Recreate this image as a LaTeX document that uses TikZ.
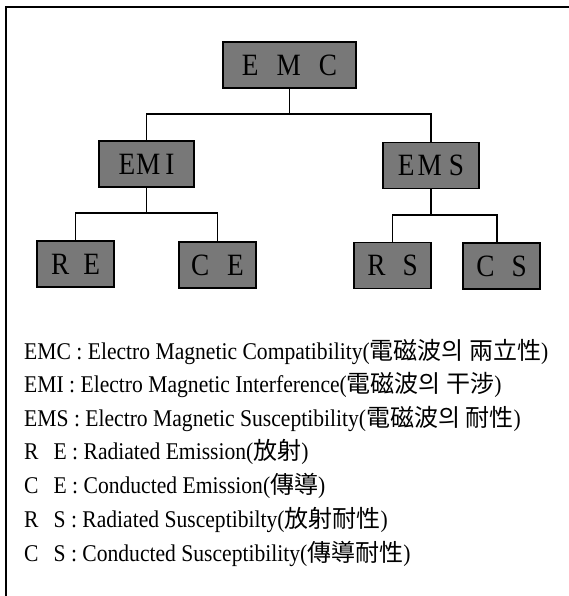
\documentclass[tikz,border=0pt]{standalone}
\usepackage{fontspec}
\newfontfamily\lat[FakeStretch=0.9]{Liberation Serif}
\newfontfamily\boxlat[FakeStretch=0.88]{Liberation Serif}
\newfontfamily\cjk{Noto Sans CJK KR}
\usetikzlibrary{calc}
\definecolor{boxgray}{gray}{0.47}
\begin{document}
\begin{tikzpicture}[x=1pt,y=-1pt,
  box/.style={draw=black, line width=1.4pt, fill=boxgray, inner sep=0pt,
    minimum height=46pt, minimum width=77pt, font=\fontsize{31}{31}\selectfont\boxlat},
  link/.style={line width=1.3pt},
  legend/.style={anchor=base west, inner sep=0pt, font=\fontsize{24}{24}\selectfont\lat}]
\useasboundingbox (0,0) rectangle (569,596);
% frame
\draw[line width=2pt] (5.5,596) -- (5.5,7.5) -- (569,7.5);
% boxes
\node[box, minimum width=133pt] (EMC) at (289.5,65) {E\hspace{18pt}M\hspace{18pt}C};
\node[box, minimum width=95pt] (EMI) at (146.5,164) {E\hspace{1pt}M\hspace{5pt}I};
\node[box, minimum width=96pt] (EMS) at (431,165.5) {E\hspace{3pt}M\hspace{7pt}S};
\node[box] (RE) at (75.5,264) {R\hspace{14pt}E};
\node[box] (CE) at (217.5,265) {C\hspace{18pt}E};
\node[box] (RS) at (392.5,265.5) {R\hspace{17pt}S};
\node[box] (CS) at (501.5,266) {C\hspace{17pt}S};
% junctions
\coordinate (j1) at (289.5,114);
\coordinate (j2) at (146.5,213);
\coordinate (j3) at (431,215);
% connectors
\draw[link] (EMC.south) -- (j1);
\draw[link] (EMI.north) |- (j1) -| (EMS.north);
\draw[link] (EMI.south) -- (j2);
\draw[link] (RE.north) |- (j2) -| (CE.north);
\draw[link] (EMS.south) -- (j3);
\draw[link] (RS.north) |- (j3) -| ([xshift=-4.5pt]CS.north);
% legend
\node[legend] (l1) at (24,359) {EMC : Electro Magnetic Compatibility({\cjk 電磁波의 兩立性})};
\node[legend] (l2) at (24,392.5) {EMI : Electro Magnetic Interference({\cjk 電磁波의 干涉})};
\node[legend] (l3) at (24,426) {EMS : Electro Magnetic Susceptibility({\cjk 電磁波의 耐性})};
\node[legend] (l4) at (24,459.5) {R\hspace{15pt}E : Radiated Emission({\cjk 放射})};
\node[legend] (l5) at (24,493) {C\hspace{15pt}E : Conducted Emission({\cjk 傳導})};
\node[legend] (l6) at (24,527) {R\hspace{15pt}S : Radiated Susceptibilty({\cjk 放射耐性})};
\node[legend] (l7) at (24,561) {C\hspace{15pt}S : Conducted Susceptibility({\cjk 傳導耐性})};
\end{tikzpicture}
\end{document}
